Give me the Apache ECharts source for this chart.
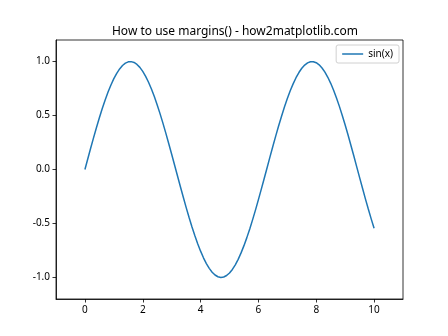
<!DOCTYPE html>
<html>
<head>
<meta charset="utf-8">
<script src="https://cdn.jsdelivr.net/npm/echarts@6/dist/echarts.min.js"></script>
<style>html,body{margin:0;padding:0;background:#fff;}#c{width:448px;height:336px;}</style>
</head>
<body>
<div id="c"></div>
<script>
const xValues = [0,0.1,0.2,0.3,0.4,0.5,0.6,0.7,0.8,0.9,1,1.1,1.2,1.3,1.4,1.5,1.6,1.7,1.8,1.9,2,2.1,2.2,2.3,2.4,2.5,2.6,2.7,2.8,2.9,3,3.1,3.2,3.3,3.4,3.5,3.6,3.7,3.8,3.9,4,4.1,4.2,4.3,4.4,4.5,4.6,4.7,4.8,4.9,5,5.1,5.2,5.3,5.4,5.5,5.6,5.7,5.8,5.9,6,6.1,6.2,6.3,6.4,6.5,6.6,6.7,6.8,6.9,7,7.1,7.2,7.3,7.4,7.5,7.6,7.7,7.8,7.9,8,8.1,8.2,8.3,8.4,8.5,8.6,8.7,8.8,8.9,9,9.1,9.2,9.3,9.4,9.5,9.6,9.7,9.8,9.9,10];
const sinValues = [0.000,0.0998,0.1987,0.2955,0.3894,0.4794,0.5646,0.6442,0.7174,0.7833,
  0.8415,0.8912,0.9320,0.9636,0.9854,0.9975,0.9996,0.9917,0.9738,0.9463,
  0.9093,0.8632,0.8085,0.7457,0.6755,0.5985,0.5155,0.4274,0.3350,0.2392,
  0.1411,0.0416,-0.0584,-0.1577,-0.2555,-0.3508,-0.4425,-0.5298,-0.6119,-0.6878,
  -0.7568,-0.8183,-0.8716,-0.9162,-0.9516,-0.9775,-0.9937,-0.9999,-0.9962,-0.9825,
  -0.9589,-0.9258,-0.8835,-0.8323,-0.7728,-0.7055,-0.6313,-0.5507,-0.4646,-0.3739,
  -0.2794,-0.1822,-0.0831,0.0168,0.1165,0.2151,0.3115,0.4048,0.4941,0.5784,
  0.6570,0.7290,0.7937,0.8504,0.8987,0.9380,0.9679,0.9882,0.9985,0.9989,
  0.9894,0.9699,0.9407,0.9022,0.8546,0.7985,0.7344,0.6630,0.5849,0.5010,
  0.4121,0.3191,0.2229,0.1245,0.0248,-0.0752,-0.1743,-0.2718,-0.3665,-0.4575,
  -0.5440];
const xTicks = [0,2,4,6,8,10];
const yTicks = [-1.0,-0.5,0.0,0.5,1.0];
const seriesName = 'sin(x)';
const titleText = 'How to use margins() - how2matplotlib.com';

const font = '"Noto Sans", "DejaVu Sans", sans-serif';
const chart = echarts.init(document.getElementById('c'), null, {renderer: 'canvas'});
chart.setOption({
  animation: false,
  backgroundColor: '#fff',
  title: {
    text: titleText,
    left: 230, top: 21, textAlign: 'center',
    textStyle: {fontFamily: font, fontSize: 12, fontWeight: 'normal', color: '#000'}
  },
  legend: {
    right: 49, top: 45,
    padding: [4, 6, 4, 6],
    borderColor: '#d0d0d0', borderWidth: 1, borderRadius: 2,
    backgroundColor: 'rgba(255,255,255,0.8)',
    icon: 'rect', itemWidth: 21, itemHeight: 1.5, itemGap: 5,
    textStyle: {fontFamily: font, fontSize: 10, color: '#000'},
    data: [seriesName]
  },
  grid: {left: 56, right: 45, top: 40, bottom: 37, show: true, borderColor: '#000', borderWidth: 0.8, containLabel: false},
  xAxis: {
    type: 'value', min: -1, max: 11,
    splitLine: {show: false},
    axisLine: {show: true, onZero: false, lineStyle: {color: '#000', width: 0.8}},
    axisTick: {show: true, length: 3.5, lineStyle: {color: '#000', width: 0.8}, customValues: xTicks},
    axisLabel: {customValues: xTicks, fontFamily: font, fontSize: 10, color: '#000', margin: 6,
      formatter: v => String(v)}
  },
  yAxis: {
    type: 'value', min: -1.2, max: 1.2,
    splitLine: {show: false},
    axisLine: {show: true, onZero: false, lineStyle: {color: '#000', width: 0.8}},
    axisTick: {show: true, length: 3.5, lineStyle: {color: '#000', width: 0.8}, customValues: yTicks},
    axisLabel: {customValues: yTicks, fontFamily: font, fontSize: 10, color: '#000', margin: 6,
      formatter: v => v.toFixed(1)}
  },
  series: [{
    name: seriesName, type: 'line',
    data: xValues.map((x, i) => [x, sinValues[i]]),
    showSymbol: false, smooth: false,
    lineStyle: {color: '#1f77b4', width: 1.5},
    itemStyle: {color: '#1f77b4'}
  }]
});
</script>
</body>
</html>
